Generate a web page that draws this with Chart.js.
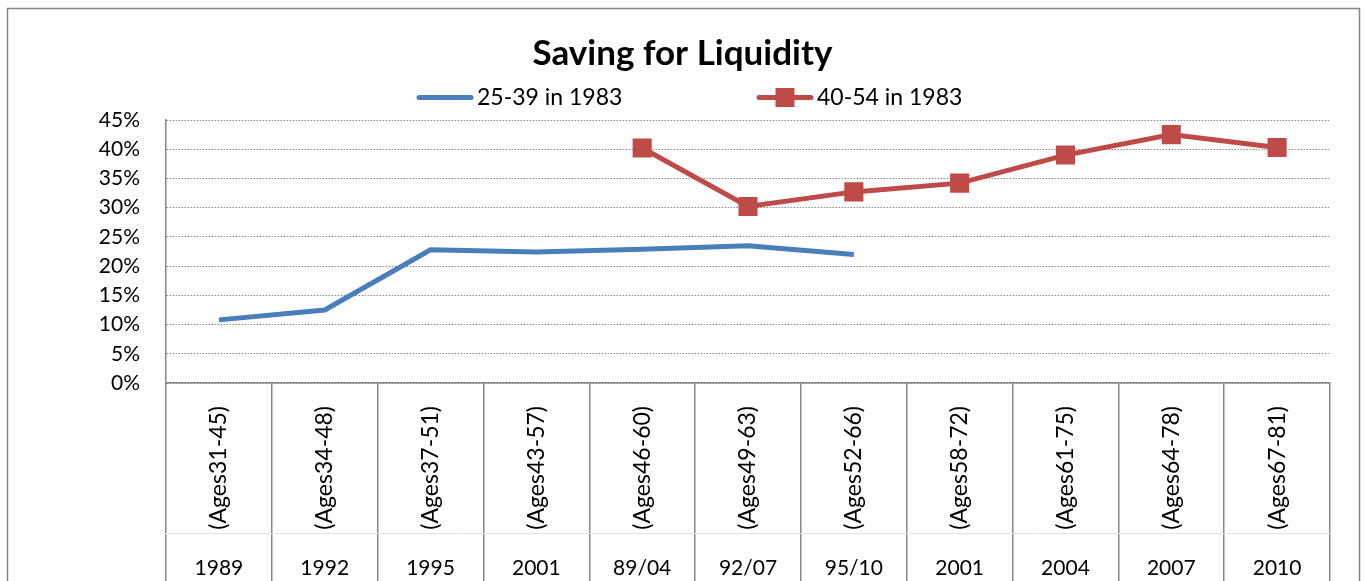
<!DOCTYPE html>
<html>
<head>
<meta charset="utf-8">
<script src="https://cdn.jsdelivr.net/npm/chart.js"></script>
<style>
body{margin:0;background:#fff;}
canvas{display:block;}
</style>
</head>
<body>
<canvas id="chart" width="1365" height="581"></canvas>
<script>
const ageLabels = ["(Ages31-45)","(Ages34-48)","(Ages37-51)","(Ages43-57)","(Ages46-60)","(Ages49-63)","(Ages52-66)","(Ages58-72)","(Ages61-75)","(Ages64-78)","(Ages67-81)"];
const yearLabels = ["1989","1992","1995","2001","89/04","92/07","95/10","2001","2004","2007","2010"];
const seriesNames = ["25-39 in 1983","40-54 in 1983"];
const young = [10.8,12.5,22.8,22.4,22.9,23.5,22.0,null,null,null,null];
const old = [null,null,null,null,40.2,30.2,32.7,34.2,39.0,42.5,40.3];

const FONT = "Lato, Carlito, sans-serif";
const GRAY = "#868686";

// frame round the whole chart + legend drawn by hand (item spacing as in the original)
const decor = {
id:"decor",
beforeDraw(chart){
const ctx = chart.ctx;
ctx.save();
ctx.fillStyle = "#fff";
ctx.fillRect(0,0,chart.width,chart.height);
ctx.strokeStyle = GRAY;
ctx.lineWidth = 1.5;
ctx.strokeRect(7.5,8.5,1352,700);
ctx.restore();
},
afterDraw(chart){
const ctx = chart.ctx;
const legendX = [417,757];
const y = 97.5;
ctx.save();
chart.data.datasets.forEach((ds,i) => {
const x = legendX[i];
ctx.strokeStyle = ds.borderColor;
ctx.lineWidth = 5;
ctx.lineCap = "round";
ctx.beginPath();
ctx.moveTo(x+2,y);
ctx.lineTo(x+54,y);
ctx.stroke();
if(ds.pointRadius > 0){
ctx.fillStyle = ds.backgroundColor;
ctx.fillRect(x+28-9.5,y-9.5,19,19);
}
ctx.fillStyle = "#000";
ctx.font = "23px " + FONT;
ctx.textBaseline = "middle";
ctx.textAlign = "left";
ctx.fillText(ds.label,x+60,y);
});
ctx.restore();
}
};

new Chart(document.getElementById("chart"),{
type:"line",
data:{
labels:ageLabels,
datasets:[{
label:seriesNames[0],
data:young,
borderColor:"#4a7ebb",
backgroundColor:"#4a7ebb",
borderWidth:5,
pointRadius:0,
tension:0
},{
label:seriesNames[1],
data:old,
borderColor:"#be4b48",
backgroundColor:"#be4b48",
borderWidth:5,
pointStyle:"rect",
pointRadius:13.5,
pointBorderWidth:0,
tension:0
}]
},
options:{
responsive:false,
animation:false,
layout:{padding:{left:35,right:35,top:0,bottom:0}},
plugins:{
legend:{display:false},
tooltip:{enabled:false},
title:{
display:true,
text:"Saving for Liquidity",
color:"#000",
font:{family:FONT,size:35,weight:"bold"},
padding:{top:33,bottom:45}
}
},
scales:{
y:{
min:0,
max:45,
afterFit(s){ s.width = 131; },
ticks:{
stepSize:5,
padding:26,
color:"#000",
font:{family:FONT,size:21},
callback:v => v + "%"
},
grid:{
color:"#8a8a8a",
lineWidth:1,
drawTicks:false
},
border:{display:true,color:GRAY,width:1.5,dash:[1.5,1.5]}
},
x:{
type:"category",
offset:true,
afterFit(s){ s.height = 150; },
ticks:{
color:"#000",
font:{family:FONT,size:23},
minRotation:90,
maxRotation:90,
autoSkip:false,
padding:-127
},
grid:{
offset:true,
drawOnChartArea:false,
drawTicks:true,
tickLength:150,
color:GRAY,
lineWidth:1.5
},
border:{display:true,color:GRAY,width:1.5}
},
x2:{
type:"category",
position:"bottom",
labels:yearLabels,
offset:true,
afterFit(s){ s.height = 48; },
ticks:{
color:"#000",
font:{family:FONT,size:21},
autoSkip:false,
maxRotation:0,
padding:-25.6
},
grid:{
offset:true,
drawOnChartArea:false,
drawTicks:true,
tickLength:48,
color:GRAY,
lineWidth:1.5
},
border:{display:true,color:"#e3e3e3",width:1}
}
}
},
plugins:[decor]
});
</script>
</body>
</html>
